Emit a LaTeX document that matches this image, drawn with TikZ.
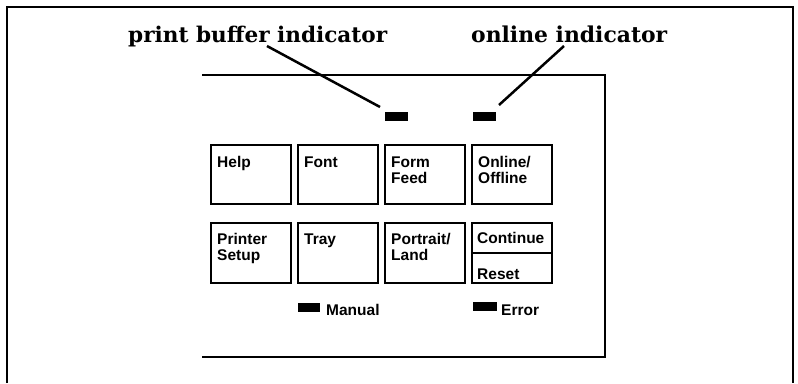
\documentclass[tikz,border=0pt]{standalone}
\usepackage{fontspec}
\usepackage{graphicx}
\newfontfamily\btnfont{Liberation Sans}
\newfontfamily\calfont{DejaVu Serif}
\begin{document}
\begin{tikzpicture}[x=1pt,y=-1pt,
  frame/.style={line width=2pt},
  btn/.style={draw,line width=2.4pt,minimum width=80pt,minimum height=59pt,anchor=north west,inner sep=0pt},
  btntext/.style={anchor=base west,inner sep=0pt,font=\btnfont\fontsize{15.5}{16}\selectfont\bfseries},
  led/.style={fill=black,draw=none,anchor=north west,inner sep=0pt,minimum height=9pt},
  callout/.style={anchor=base west,inner sep=0pt,font=\calfont\fontsize{18}{22}\selectfont\bfseries},
  leader/.style={line width=2.5pt}]
\useasboundingbox (0,0) rectangle (798,383);
% outer frame (open at bottom)
\draw[frame] (7,383) -- (7,7) -- (793,7) -- (793,383);
% inner panel (open at left)
\draw[frame] (202,75) -- (605,75) -- (605,357) -- (202,357);
% callout labels
\node[callout] (pbl) at (128,42) {\resizebox{259pt}{!}{print buffer indicator}};
\node[callout] (oll) at (471,42) {\resizebox{196pt}{!}{online indicator}};
% top LEDs
\node[led,minimum width=23pt] (pbled) at (385,112) {};
\node[led,minimum width=23pt] (olled) at (473,112) {};
\coordinate (pbs) at (267,46);
\coordinate (pbe) at (380,107);
\coordinate (ols) at (564,46);
\coordinate (ole) at (499,105);
\draw[leader] (pbs) -- (pbe);
\draw[leader] (ols) -- (ole);
% buttons row 1
\node[btn] (help) at (210,144) {};
\node[btn] (font) at (297,144) {};
\node[btn] (form) at (384,144) {};
\node[btn] (online) at (471,144) {};
% buttons row 2
\node[btn,minimum height=60pt] (setup) at (210,222) {};
\node[btn,minimum height=60pt] (tray) at (297,222) {};
\node[btn,minimum height=60pt] (portrait) at (384,222) {};
\node[btn,minimum height=60pt] (cont) at (471,222) {};
\draw[line width=1.2pt] (cont.west |- 0,253) -- (cont.east |- 0,253);
% button texts
\node[btntext] (t1) at (217,167) {Help};
\node[btntext] (t2) at (304,167) {Font};
\node[btntext] (t3) at (391,167) {Form};
\node[btntext] (t3b) at (391,183) {Feed};
\node[btntext] (t4) at (478,167) {Online/};
\node[btntext] (t4b) at (478,183) {Offline};
\node[btntext] (t5) at (217,244) {Printer};
\node[btntext] (t5b) at (217,260) {Setup};
\node[btntext] (t6) at (304,244) {Tray};
\node[btntext] (t7) at (391,244) {Portrait/};
\node[btntext] (t7b) at (391,260) {Land};
\node[btntext] (t8) at (477,243) {Continue};
\node[btntext] (t8b) at (477,279) {Reset};
% bottom LEDs
\node[led,minimum width=22pt] (manled) at (298,303) {};
\node[btntext] (manl) at (326,315) {Manual};
\node[led,minimum width=24pt] (errled) at (473,302) {};
\node[btntext] (errl) at (501,315) {Error};
\end{tikzpicture}
\end{document}
